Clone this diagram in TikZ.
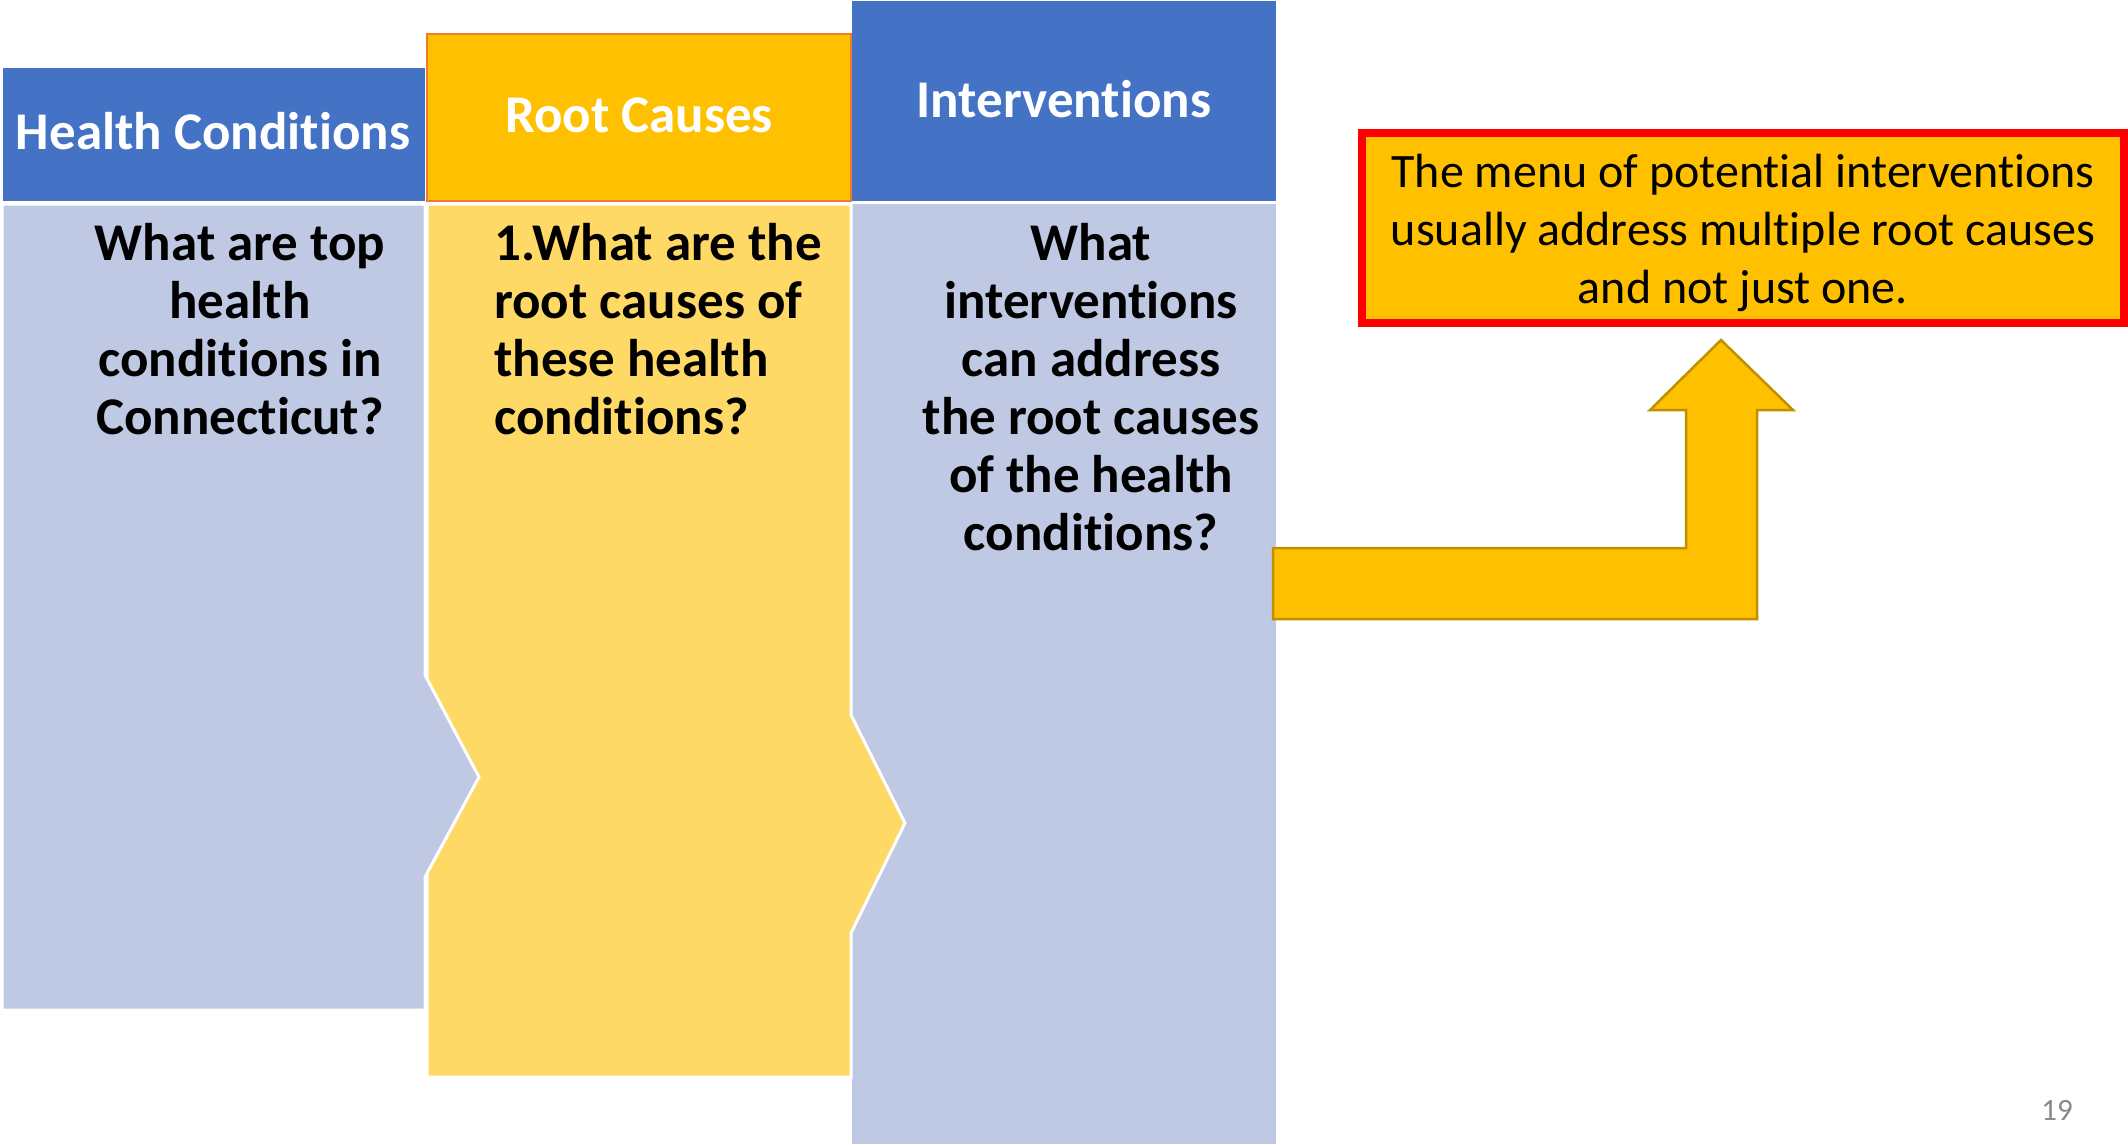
\documentclass[tikz,border=0pt]{standalone}
\usepackage{fontspec}
\setmainfont{Carlito}[Ligatures=NoCommon]
\definecolor{hdrblue}{HTML}{4472C4}
\definecolor{bodyblue}{HTML}{BFC9E4}
\definecolor{hdrgold}{HTML}{FFC000}
\definecolor{hdrorange}{HTML}{ED7D31}
\definecolor{bodygold}{HTML}{FFD966}
\definecolor{arrowline}{HTML}{BF9000}
\definecolor{pagegray}{HTML}{898989}
\newcommand{\firstlinestrut}{\rule{0pt}{42pt}}
\newcommand{\calloutstrut}{\rule{0pt}{40pt}}
\begin{document}
\begin{tikzpicture}[x=1pt,y=-1pt,
  hdrtext/.style={text=white,font=\bfseries\fontsize{53}{58}\selectfont,inner sep=0pt},
  bodytext/.style={text=black,font=\bfseries\fontsize{53}{58}\selectfont,inner sep=0pt},
  bodyshape/.style={draw=white,line width=3pt,line join=miter},
  callouttext/.style={text=black,font=\fontsize{48}{58}\selectfont,inner sep=0pt,align=center}]
\useasboundingbox (0,0) rectangle (2128,1144);
\fill[white] (0,0) rectangle (2128,1144);
% Interventions column
\fill[hdrblue] (852,1) rectangle (1276,201);
\fill[bodyblue] (852,204) rectangle (1276,1144);
% Root causes column
\filldraw[hdrgold,draw=hdrorange,line width=2pt] (427,34) rectangle (851,201);
\filldraw[bodygold,bodyshape] (427,204) -- (851,204) -- (851,715) -- (905,823) -- (851,933) -- (851,1077) -- (427,1077) -- cycle;
% Health conditions column
\fill[hdrblue] (3,68) rectangle (425,201);
\filldraw[bodyblue,bodyshape] (2,204) -- (425,204) -- (425,675) -- (479,777) -- (425,877) -- (425,1010) -- (2,1010) -- cycle;
% headers
\node[hdrtext,anchor=base] (hc) at (213,149) {Health Conditions};
\node[hdrtext,anchor=base] (rc) at (639,132) {Root Causes};
\node[hdrtext,anchor=base] (iv) at (1064,117) {Interventions};
% body texts
\node[bodytext,align=center,anchor=north] (hct) at (240,218)
  {\firstlinestrut What are top\\health\\conditions in\\Connecticut?};
\node[bodytext,align=left,anchor=north west] (rct) at (494,218)
  {\firstlinestrut 1.What are the\\root causes of\\these health\\conditions?};
\node[bodytext,align=center,anchor=north] (ivt) at (1091,218)
  {\firstlinestrut What\\interventions\\can address\\the root causes\\of the health\\conditions?};
% bent-up arrow
\filldraw[fill=hdrgold,draw=arrowline,line width=2.5pt,line join=miter]
  (1273,548) -- (1686,548) -- (1686,410) -- (1650,410) -- (1721,340) -- (1793,410) -- (1757,410) -- (1757,619) -- (1273,619) -- cycle;
% callout
\node[draw=red,fill=hdrgold,line width=8pt,outer sep=0pt,minimum width=762pt,minimum height=190pt,inner sep=0pt,anchor=north west] (callbox) at (1362,133) {};
\node[callouttext,anchor=north] (calltext) at (1743,147)
  {\calloutstrut The menu of potential interventions\\usually address multiple root causes\\and not just one.};
% page number
\node[text=pagegray,font=\fontsize{31}{36}\selectfont,inner sep=0pt,anchor=base] (pg) at (2057,1120) {19};
\end{tikzpicture}
\end{document}
